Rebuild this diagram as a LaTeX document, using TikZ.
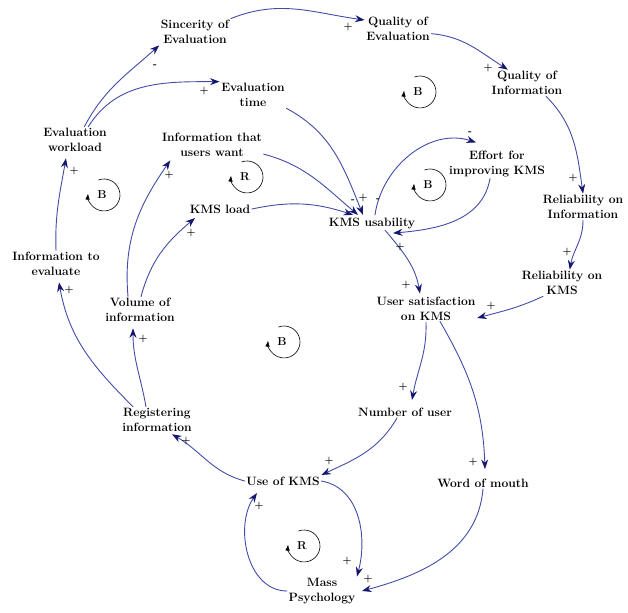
\documentclass[tikz,border=0pt]{standalone}
\usetikzlibrary{arrows.meta,calc}
\definecolor{linkblue}{RGB}{66,76,166}
\definecolor{headnavy}{RGB}{22,24,112}
\begin{document}
\begin{tikzpicture}[x=1pt,y=1pt, line join=round, line cap=round,
	var/.style={align=center, inner sep=1.5pt, font=\bfseries\fontsize{12.1}{14.8}\selectfont},
	link/.style={linkblue, line width=0.9pt, -{Stealth[length=9.5pt,width=7pt,color=headnavy]}},
	sign/.style={inner sep=0.5pt, font=\bfseries\fontsize{10}{10}\selectfont},
	loopname/.style={inner sep=0pt, font=\bfseries\fontsize{11.5}{11.5}\selectfont}]
	\useasboundingbox (0,0) rectangle (628,612);
	% variables
	\node[var] (sinc) at (195,580) {Sincerity of\\Evaluation};
	\node[var] (qeval) at (398,583) {Quality of\\Evaluation};
	\node[var] (qinfo) at (527,529) {Quality of\\Information};
	\node[var] (evtime) at (253,517) {Evaluation\\time};
	\node[var] (evload) at (75,472) {Evaluation\\workload};
	\node[var] (want) at (212,467) {Information that\\users want};
	\node[var] (load) at (220,403) {KMS load};
	\node[var] (usab) at (372,389) {KMS usability};
	\node[var] (effort) at (497,448) {Effort for\\improving KMS};
	\node[var] (relinfo) at (583,405) {Reliability on\\Information};
	\node[var] (relkms) at (562,329) {Reliability on\\KMS};
	\node[var] (satis) at (426,303) {User satisfaction\\on KMS};
	\node[var] (toeval) at (56,348) {Information to\\evaluate};
	\node[var] (volume) at (140,302) {Volume of\\information};
	\node[var] (reg) at (157,192) {Registering\\information};
	\node[var] (nusers) at (405,200) {Number of user};
	\node[var] (use) at (283,131) {Use of KMS};
	\node[var] (word) at (483,129) {Word of mouth};
	\node[var] (mass) at (322,21) {Mass\\Psychology};
	% links
	\draw[link] (evload.55) to[out=62,in=222] (sinc.south west);
	\draw[link] (evload.45) to[out=58,in=180] (evtime.north west);
	\draw[link] (sinc.north east) to[out=22,in=172] (qeval.165);
	\draw[link] (qeval.-8) to[out=-5,in=148] (qinfo.145);
	\draw[link] (qinfo.-35) to[out=-45,in=98] (relinfo.north);
	\draw[link] (relinfo.south) to[out=-90,in=80] (relkms.60);
	\draw[link] (relkms.-145) to[out=-155,in=15] (satis.-10);
	\draw[link] (evtime.south east) to[out=-28,in=112] ($(usab.north)+(-9,1)$);
	\draw[link] (want.-10) to[out=-15,in=140] ($(usab.north)+(-14,1)$);
	\draw[link] (load.east) to[out=12,in=162] ($(usab.north)+(-19,1)$);
	\draw[link] ($(usab.north)+(3,1)$) to[out=82,in=162] ($(effort.north)+(-21,7)$);
	\draw[link] ($(effort.south)+(-7,0)$) to[out=-100,in=5] ($(usab.south)+(21,-3)$);
	\draw[link] ($(usab.south)+(13,0)$) to[out=-50,in=100] ($(satis.north)+(-6,2)$);
	\draw[link] (satis.south) to[out=-88,in=80] ($(nusers.north)+(7,6)$);
	\draw[link] ($(satis.south)+(14,1)$) to[out=-60,in=92] ($(word.north)+(2,8)$);
	\draw[link] ($(nusers.south)+(-8,0)$) to[out=-120,in=25] (use.north east);
	\draw[link] (use.west) to[out=165,in=-30] ($(reg.south)+(15,-1)$);
	\draw[link] (use.east) to[out=-10,in=75] (mass.north east);
	\draw[link] (mass.west) to[out=180,in=235] ($(use.south)+(-26,-6)$);
	\draw[link] (word.south) to[out=-95,in=15] ($(mass.east)+(5,0)$);
	\draw[link] ($(reg.north)+(-24,0)$) to[out=135,in=-80] ($(toeval.south)+(3,-5)$);
	\draw[link] ($(reg.north)+(-11,0)$) to[out=100,in=-90] ($(volume.south)+(-7,-5)$);
	\draw[link] (toeval.north) to[out=92,in=-100] ($(evload.south)+(-9,-5)$);
	\draw[link] ($(volume.north)+(-12,0)$) to[out=95,in=-125] ($(want.south west)+(10,-2)$);
	\draw[link] ($(volume.north)+(1,0)$) to[out=75,in=-140] ($(load.south west)+(7,-3)$);
	% polarities
	\foreach \x/\y/\s [count=\k] in {155/546/-, 204/521/+, 348/585/+, 488/544/+, 573/434/+,
		567/360/+, 491/306/+, 353/411/-, 363/414/+, 378/412/-, 470/479/-, 400/365/+,
		406/327/+, 403/225/+, 473/150/+, 329/151/+, 186/171/+, 259/106/+, 347/51/+,
		368/33/+, 69/322/+, 143/273/+, 74/441/+, 169/437/+, 191/379/+}
		\node[sign] (sign\k) at (\x,\y) {\s};
	% loop markers
	\foreach \x/\y/\l [count=\k] in {418/520/B, 428/427/B, 245/435/R, 102/417/B, 282/270/B, 302/66/R}{
		\node[loopname] (loop\k) at (\x,\y) {\l};
		\draw[line width=0.6pt, -{Latex[length=6pt,width=4.5pt]}] (\x+2,\y) ++(110:16) arc[start angle=110, end angle=-185, radius=16];
	}
\end{tikzpicture}
\end{document}
